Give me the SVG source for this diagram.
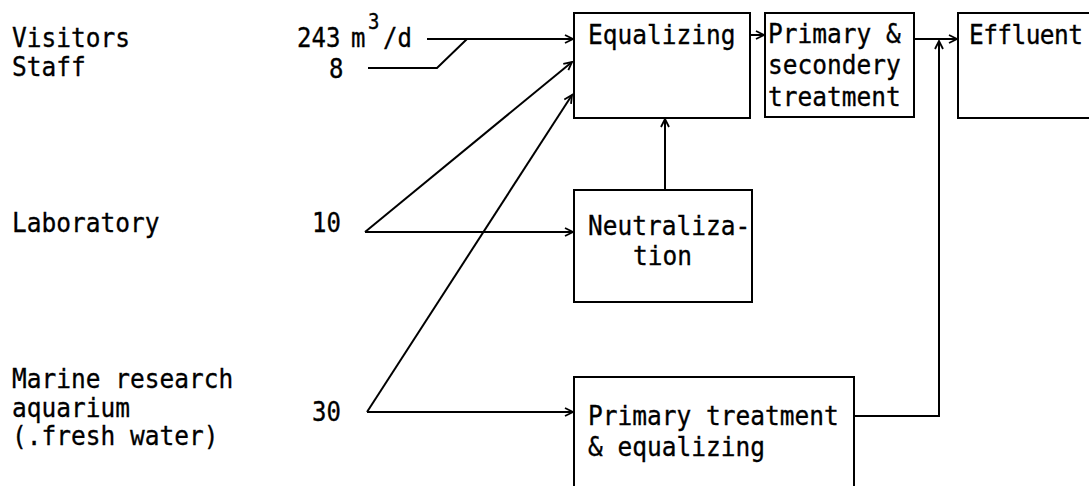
<svg xmlns="http://www.w3.org/2000/svg" width="1089" height="486" viewBox="0 0 1089 486">
  <style>
    .t { font-family: "DejaVu Sans Mono", "Liberation Mono", monospace; font-size: 24.5px; fill: #000; stroke: #000; stroke-width: 0.3; }
    .n { font-family: "DejaVu Sans Mono", "Liberation Mono", monospace; font-size: 24px; fill: #000; stroke: #000; stroke-width: 0.3; }
    .sup { font-size: 19px; }
    .box { fill: none; stroke: #000; stroke-width: 2; }
    .link { fill: none; stroke: #000; stroke-width: 2; }
  </style>
  <defs>
    <marker id="arrow" markerUnits="userSpaceOnUse" markerWidth="12" markerHeight="12" refX="9" refY="5" orient="auto">
      <path d="M1,1 L9,5 L1,9" fill="none" stroke="#000" stroke-width="1.8"/>
    </marker>
  </defs>
  <rect width="1089" height="486" fill="#fff"/>

  <!-- source labels -->
  <g id="sources">
    <text class="t" transform="translate(12,47) scale(1,1.1)"><tspan x="0" y="0">Visitors</tspan><tspan x="0" y="26.5">Staff</tspan></text>
    <text class="t" transform="translate(12,232) scale(1,1.1)">Laboratory</text>
    <text class="t" transform="translate(12,388) scale(1,1.1)"><tspan x="0" y="0">Marine research</tspan><tspan x="0" y="26">aquarium</tspan><tspan x="0" y="52">(.fresh water)</tspan></text>
  </g>

  <!-- flow quantities -->
  <g id="flows">
    <text class="n" transform="translate(297,47) scale(1,1.1)">243</text>
    <text class="n" transform="translate(351,47) scale(1,1.1)">m</text>
    <text class="n sup" transform="translate(368,29) scale(1,1.1)">3</text>
    <text class="n" transform="translate(383,47) scale(1,1.1)">/d</text>
    <text class="n" transform="translate(329,78) scale(1,1.1)">8</text>
    <text class="n" transform="translate(312,232) scale(1,1.1)">10</text>
    <text class="n" transform="translate(312,421) scale(1,1.1)">30</text>
  </g>

  <!-- process units -->
  <g id="equalizing">
    <rect class="box" x="574" y="13" width="176" height="105"/>
    <text class="t" transform="translate(588,44) scale(1,1.1)">Equalizing</text>
  </g>
  <g id="primary-secondary">
    <rect class="box" x="765" y="13" width="149" height="104"/>
    <text class="t" transform="translate(768,43) scale(1,1.1)"><tspan x="0" y="0">Primary &amp;</tspan><tspan x="0" y="28.5">secondery</tspan><tspan x="0" y="57">treatment</tspan></text>
  </g>
  <g id="effluent">
    <rect class="box" x="958" y="13" width="150" height="105"/>
    <text class="t" transform="translate(969,44) scale(1,1.1)" textLength="114" lengthAdjust="spacing">Effluent</text>
  </g>
  <g id="neutralization">
    <rect class="box" x="574" y="190" width="178" height="112"/>
    <text class="t" transform="translate(588,235) scale(1,1.1)"><tspan x="0" y="0">Neutraliza-</tspan><tspan x="45" y="27">tion</tspan></text>
  </g>
  <g id="primary-treatment">
    <rect class="box" x="574" y="377" width="280" height="120"/>
    <text class="t" transform="translate(588,425) scale(1,1.1)"><tspan x="0" y="0">Primary treatment</tspan><tspan x="0" y="28.5">&amp; equalizing</tspan></text>
  </g>

  <!-- connectors -->
  <g id="connectors">
    <line class="link" x1="427" y1="39" x2="573" y2="39" marker-end="url(#arrow)"/>
    <polyline class="link" points="368,68 437,68 467,39"/>
    <line class="link" x1="365" y1="232" x2="572" y2="62" marker-end="url(#arrow)"/>
    <line class="link" x1="365" y1="232" x2="573" y2="232" marker-end="url(#arrow)"/>
    <line class="link" x1="367" y1="412" x2="572" y2="95" marker-end="url(#arrow)"/>
    <line class="link" x1="367" y1="412" x2="573" y2="412" marker-end="url(#arrow)"/>
    <line class="link" x1="665" y1="190" x2="665" y2="119" marker-end="url(#arrow)"/>
    <line class="link" x1="750" y1="35" x2="764" y2="35" marker-end="url(#arrow)"/>
    <line class="link" x1="914" y1="39" x2="957" y2="39" marker-end="url(#arrow)"/>
    <polyline class="link" points="854,416 939,416 939,41" marker-end="url(#arrow)"/>
  </g>
</svg>
